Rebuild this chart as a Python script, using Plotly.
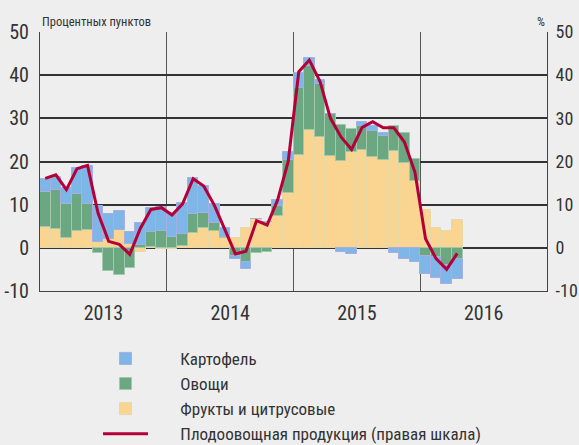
import plotly.graph_objects as go

months = list(range(40))  # Jan 2013 .. Apr 2016
year_labels = ["2013", "2014", "2015", "2016"]
year_centers = [5.5, 17.5, 29.5, 41.5]
year_bounds = [-0.5, 11.5, 23.5, 35.5, 47.5]

fruits = [4.8, 4.4, 2.3, 3.9, 4.2, 1.3, 2.0, 4.1, 0.9, -1.0, 0.3, -0.3,
          -0.3, 0.5, 3.5, 4.5, 3.8, 2.2, 2.3, 4.5, 6.6, 6.1, 7.4, 12.8,
          21.6, 27.2, 25.7, 21.2, 20.1, 22.2, 22.7, 21.1, 20.4, 22.4, 19.7, 15.5,
          8.8, 4.6, 3.8, 6.5]
vegetables = [8.1, 9.0, 7.9, 8.6, 5.9, -1.3, -5.4, -6.2, -4.7, 0.6, 3.3, 4.0,
              2.4, 2.7, 4.3, 3.5, 2.0, 0.4, -2.0, -3.2, -1.2, -1.0, 2.4, 7.5,
              15.5, 14.9, 12.3, 9.9, 8.3, 5.3, 5.5, 5.9, 5.4, 5.8, 7.0, 5.0,
              -1.8, -2.1, -3.9, -2.7]
potatoes = [3.0, 3.1, 3.6, 5.9, 8.9, 8.4, 5.8, 4.4, 2.8, 5.1, 5.6, 5.5,
            5.6, 7.1, 8.3, 6.3, 4.4, 1.9, -0.5, -1.6, 0.0, 0.0, 1.3, 1.8,
            3.4, 1.8, 0.9, 0.0, -0.9, -1.4, 1.0, 1.2, 0.7, -1.2, -2.5, -3.2,
            -4.3, -4.8, -4.4, -4.5]
total = [16.1, 16.9, 13.5, 18.3, 19.1, 8.0, 1.5, 0.8, -1.5, 4.5, 8.9, 9.3,
         7.6, 10.2, 16.0, 14.3, 9.9, 4.3, -1.4, -0.8, 6.3, 5.3, 11.1, 20.0,
         40.8, 43.5, 38.6, 30.0, 25.7, 22.8, 27.9, 29.2, 27.8, 27.8, 24.5, 17.5,
         2.1, -2.5, -5.0, -1.3]

y_ticks = [-10, 0, 10, 20, 30, 40, 50]
y_tick_text = ["-10", "0", "10", "20", "30", "40", "50"]

FONT = "Liberation Sans Narrow, Roboto Condensed, DejaVu Sans Condensed, Arial Narrow, sans-serif"
BG = "#eeeeee"
TXT = "#333333"
PAD = "\u00a0" * 7

fig = go.Figure()
fig.add_trace(go.Bar(x=months, y=fruits, name=PAD + "Фрукты и цитрусовые", legendrank=3,
                     marker=dict(color="#f9d591", line=dict(color="#e6d9a8", width=1)), width=1))
fig.add_trace(go.Bar(x=months, y=vegetables, name=PAD + "Овощи", legendrank=2,
                     marker=dict(color="#6ba882", line=dict(color="#a3c9ad", width=1)), width=1))
fig.add_trace(go.Bar(x=months, y=potatoes, name=PAD + "Картофель", legendrank=1,
                     marker=dict(color="#7eb6e8", line=dict(color="#a9aee0", width=1)), width=1))
fig.add_trace(go.Scatter(x=months, y=total, name=PAD + "Плодоовощная продукция (правая шкала)",
                         legendrank=4, mode="lines", yaxis="y2",
                         line=dict(color="#b4003a", width=3)))
# invisible trace to carry year labels on a second x axis
fig.add_trace(go.Scatter(x=year_centers, y=[None]*4, xaxis="x2", showlegend=False,
                         hoverinfo="skip"))

fig.update_layout(
    width=579, height=445,
    margin=dict(l=40, r=32, t=32, b=154, autoexpand=False),
    paper_bgcolor=BG, plot_bgcolor=BG,
    barmode="relative", bargap=0,
    font=dict(family=FONT, size=20, color=TXT),
    xaxis=dict(range=[-0.5, 47.5], tickvals=year_bounds, showticklabels=False,
               showgrid=True, gridcolor="#555555", gridwidth=1, ticks="",
               showline=True, linecolor="#444444", linewidth=1, mirror=False,
               zeroline=False, automargin=False),
    xaxis2=dict(range=[-0.5, 47.5], overlaying="x", side="bottom",
                tickvals=year_centers, ticktext=year_labels, showgrid=False,
                ticks="", zeroline=False, showline=False, automargin=False,
                ticklabelstandoff=8, tickfont=dict(size=20, color=TXT)),
    yaxis=dict(range=[-10, 50], tickvals=y_ticks, ticktext=y_tick_text,
               showgrid=True, gridcolor="#333333",
               gridwidth=1.5, zeroline=True, zerolinecolor="#333333", zerolinewidth=1.5,
               showline=True, linecolor="#444444", linewidth=1, ticks="",
               automargin=False, ticklabelstandoff=6, tickfont=dict(size=20, color=TXT)),
    yaxis2=dict(range=[-10, 50], tickvals=y_ticks, ticktext=y_tick_text,
                overlaying="y", side="right",
                showgrid=False, zeroline=False, showline=True, linecolor="#444444",
                linewidth=1, ticks="", automargin=False, ticklabelstandoff=4,
                tickfont=dict(size=18, color=TXT)),
    legend=dict(orientation="v", xref="container", yref="container",
                x=0.1693, xanchor="left", y=0.234, yanchor="top",
                bgcolor="rgba(0,0,0,0)", font=dict(size=17, color=TXT),
                itemwidth=45, tracegroupgap=0),
    annotations=[
        dict(text="Процентных пунктов", xref="paper", yref="paper", x=0, y=1,
             xanchor="left", yanchor="bottom", showarrow=False, yshift=1,
             font=dict(size=12.5, color=TXT)),
        dict(text="%", xref="paper", yref="paper", x=1, y=1, xanchor="right",
             yanchor="bottom", showarrow=False, yshift=1,
             font=dict(size=12.5, color=TXT)),
    ],
)

fig.write_html("out.html", config={"displayModeBar": False},
               post_script="document.body.style.margin='0px';document.body.style.overflow='hidden';")
